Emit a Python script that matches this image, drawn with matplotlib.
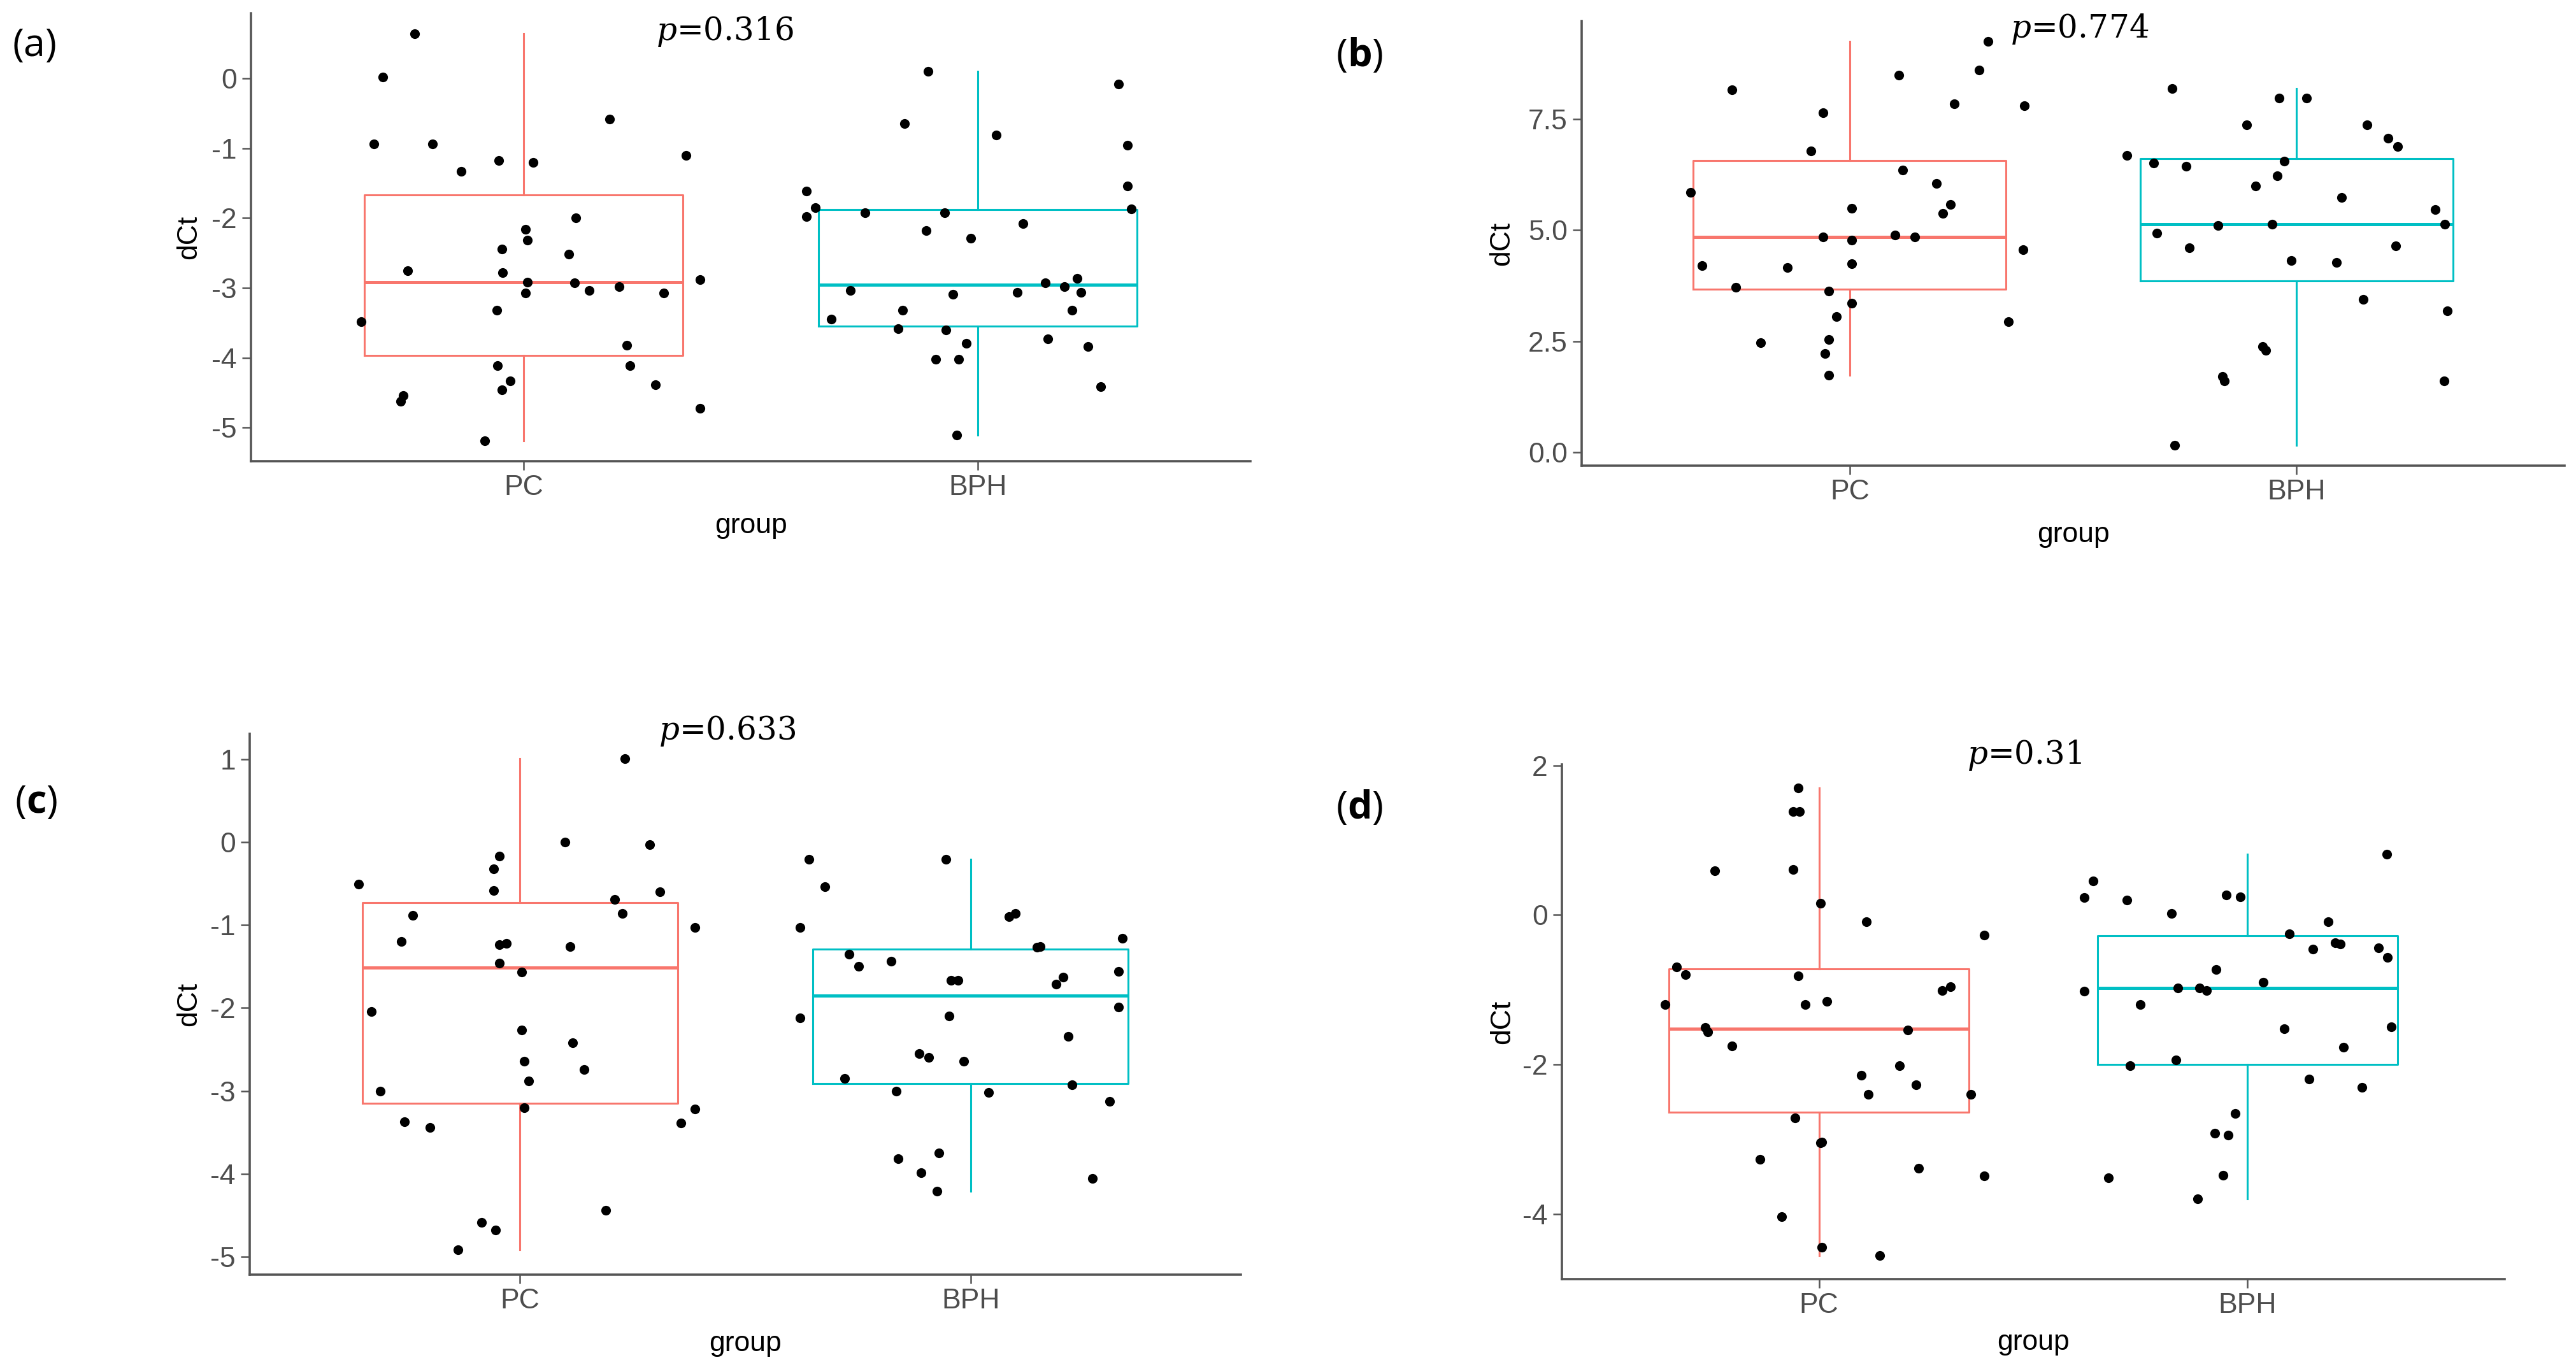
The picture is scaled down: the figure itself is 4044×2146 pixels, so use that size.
import matplotlib
matplotlib.use('Agg')
import matplotlib.pyplot as plt
from matplotlib.transforms import offset_copy
import numpy as np

plt.rcParams['font.family'] = ['Liberation Sans', 'DejaVu Sans']
plt.rcParams['axes.unicode_minus'] = False
plt.rcParams['mathtext.fontset'] = 'custom'
plt.rcParams['mathtext.rm'] = 'DejaVu Serif'
plt.rcParams['mathtext.it'] = 'DejaVu Serif:italic'
plt.rcParams['mathtext.bf'] = 'Open Sans:bold'

GROUPS = ['PC', 'BPH']
COLORS = ['#F8766D', '#00BFC4']

# (a)
A_PC = [0.64, 0.02, -0.94, -0.94, -1.33, -1.18, -1.20, -0.58, -1.10, -2.00,
        -2.16, -2.32, -2.44, -2.52, -2.75, -2.78, -2.92, -2.93, -3.07, -3.04,
        -2.98, -3.07, -2.88, -3.48, -3.32, -3.82, -4.11, -4.11, -4.33, -4.46,
        -4.54, -4.62, -4.39, -4.72, -5.19]
A_PC_JIT = [-0.24, -0.31, -0.33, -0.20, -0.137, -0.055, 0.021, 0.19, 0.357, 0.115,
            0.005, 0.009, -0.047, 0.10, -0.255, -0.046, 0.009, 0.112, 0.005, 0.144,
            0.21, 0.308, 0.388, -0.357, -0.059, 0.227, 0.234, -0.058, -0.03, -0.047,
            -0.265, -0.271, 0.29, 0.388, -0.085]
A_BPH = [0.10, -0.085, -0.65, -0.81, -0.96, -1.54, -1.61, -1.85, -1.98, -1.87,
         -1.92, -1.92, -2.08, -2.18, -2.29, -2.93, -2.86, -2.98, -3.06, -3.06,
         -3.04, -3.09, -3.32, -3.32, -3.45, -3.58, -3.60, -3.79, -3.73, -3.84,
         -4.02, -4.02, -4.41, -5.11]
A_BPH_JIT = [-0.109, 0.31, -0.161, 0.04, 0.329, 0.329, -0.378, -0.358, -0.378, 0.338,
             -0.248, -0.073, 0.10, -0.114, -0.015, 0.148, 0.218, 0.191, 0.227, 0.087,
             -0.28, -0.055, -0.166, 0.207, -0.322, -0.176, -0.07, -0.026, 0.154, 0.242,
             -0.093, -0.042, 0.271, -0.046]

# (b)
B_PC = [8.17, 7.65, 8.49, 8.61, 9.26, 7.85, 7.81, 6.79, 6.35, 6.06,
        5.86, 5.50, 5.58, 5.38, 4.85, 4.77, 4.89, 4.85, 4.56, 4.20,
        4.16, 4.24, 3.72, 3.63, 3.35, 3.06, 2.94, 2.46, 2.54, 2.22, 1.73]
B_PC_JIT = [-0.263, -0.059, 0.11, 0.29, 0.31, 0.234, 0.391, -0.087, 0.118, 0.194,
            -0.356, 0.005, 0.226, 0.209, -0.059, 0.005, 0.101, 0.146, 0.388, -0.331,
            -0.139, 0.005, -0.255, -0.047, 0.005, -0.03, 0.355, -0.199, -0.047, -0.056, -0.047]
B_BPH = [8.19, 7.98, 7.98, 7.37, 7.37, 7.08, 6.89, 6.68, 6.52, 6.44,
         6.56, 6.23, 5.99, 5.74, 5.46, 4.93, 5.10, 5.14, 5.14, 4.60,
         4.65, 4.32, 4.28, 3.44, 3.19, 2.38, 2.30, 1.70, 1.60, 1.60, 0.15]
B_BPH_JIT = [-0.279, -0.039, 0.022, -0.111, 0.158, 0.205, 0.226, -0.38, -0.32, -0.247,
             -0.028, -0.043, -0.092, 0.101, 0.31, -0.312, -0.175, -0.055, 0.332, -0.24,
             0.222, -0.011, 0.09, 0.149, 0.338, -0.076, -0.068, -0.165, -0.161, 0.331, -0.272]

# (c)
C_PC = [1.01, 0.00, -0.03, -0.17, -0.32, -0.58, -0.51, -0.60, -0.69, -0.86,
        -0.88, -1.03, -1.20, -1.24, -1.22, -1.26, -1.46, -1.57, -2.04, -2.27,
        -2.42, -2.64, -2.74, -2.88, -3.00, -3.20, -3.22, -3.39, -3.37, -3.44,
        -4.44, -4.59, -4.68, -4.92]
C_PC_JIT = [0.233, 0.10, 0.288, -0.046, -0.058, -0.058, -0.358, 0.31, 0.21, 0.227,
            -0.238, 0.388, -0.263, -0.046, -0.03, 0.111, -0.046, 0.004, -0.33, 0.004,
            0.117, 0.009, 0.142, 0.019, -0.31, 0.009, 0.388, 0.357, -0.256, -0.20,
            0.19, -0.086, -0.054, -0.137]
C_BPH = [-0.21, -0.21, -0.54, -1.03, -0.90, -0.86, -1.16, -1.27, -1.26, -1.35,
         -1.50, -1.44, -1.67, -1.67, -1.71, -1.63, -1.56, -2.12, -2.10, -1.99,
         -2.34, -2.55, -2.60, -2.64, -2.85, -3.00, -3.02, -2.93, -3.13, -3.75,
         -3.82, -3.99, -4.21, -4.06]
C_BPH_JIT = [-0.358, -0.054, -0.323, -0.378, 0.086, 0.099, 0.337, 0.147, 0.154, -0.27,
             -0.248, -0.176, -0.044, -0.028, 0.19, 0.206, 0.328, -0.378, -0.047, 0.328,
             0.217, -0.114, -0.093, -0.015, -0.28, -0.165, 0.04, 0.226, 0.309, -0.07,
             -0.161, -0.11, -0.074, 0.27]

# (d)
D_PC = [1.70, 1.38, 1.38, 0.61, 0.59, 0.155, -0.094, -0.27, -0.70, -0.80,
        -0.82, -1.01, -0.96, -1.20, -1.20, -1.16, -1.51, -1.57, -1.54, -1.75,
        -2.02, -2.15, -2.27, -2.40, -2.40, -2.72, -3.04, -3.05, -3.27, -3.39,
        -3.49, -4.04, -4.45, -4.56]
D_PC_JIT = [-0.048, -0.06, -0.046, -0.06, -0.243, 0.003, 0.11, 0.385, -0.332, -0.312,
            -0.048, 0.287, 0.307, -0.359, -0.032, 0.019, -0.265, -0.259, 0.207, -0.203,
            0.188, 0.099, 0.226, 0.115, 0.354, -0.056, 0.006, 0.004, -0.138, 0.232,
            0.385, -0.087, 0.007, 0.142]
D_BPH = [0.81, 0.45, 0.23, 0.20, 0.02, 0.27, 0.24, -0.094, -0.25, -0.46,
         -0.37, -0.39, -0.44, -0.57, -0.73, -0.90, -0.98, -0.98, -1.01, -1.02,
         -1.20, -1.52, -1.50, -1.77, -2.02, -1.94, -2.20, -2.31, -2.66, -2.92,
         -2.95, -3.48, -3.52, -3.80]
D_BPH_JIT = [0.325, -0.361, -0.381, -0.282, -0.178, -0.049, -0.017, 0.188, 0.098, 0.153,
             0.204, 0.217, 0.306, 0.326, -0.073, 0.037, -0.163, -0.112, -0.096, -0.381,
             -0.25, 0.086, 0.335, 0.224, -0.274, -0.167, 0.144, 0.267, -0.029, -0.077,
             -0.045, -0.057, -0.325, -0.116]

P_VALUES = ['0.316', '0.774', '0.633', '0.31']
PANEL_TAGS = ['a', 'b', 'c', 'd']
Y_TICKS = [[-5, -4, -3, -2, -1, 0], [0.0, 2.5, 5.0, 7.5],
           [-5, -4, -3, -2, -1, 0, 1], [-4, -2, 0, 2]]
Y_TICKLABELS = [['-5', '-4', '-3', '-2', '-1', '0'], ['0.0', '2.5', '5.0', '7.5'],
                ['-5', '-4', '-3', '-2', '-1', '0', '1'], ['-4', '-2', '0', '2']]

W, H = 4044, 2146
fig = plt.figure(figsize=(W / 100, H / 100), dpi=100)

# axes boxes in pixels: left, right, top, bottom
AX_PX = [(394, 1963, 21, 724), (2483, 4026, 33, 731),
         (392, 1948, 1152, 2001), (2452, 3932, 1200, 2008)]
P_TEXT_PX = [(1138, 50), (3265, 46), (1142, 1147), (3178, 1186)]
TAG_PX = [(54, 72), (2134, 88), (57, 1260), (2134, 1269)]
YLAB_OFF = [97, 125, 95, 93]
XLAB_OFF = [102, 109, 108, 100]

data = [(A_PC, A_PC_JIT, A_BPH, A_BPH_JIT), (B_PC, B_PC_JIT, B_BPH, B_BPH_JIT),
        (C_PC, C_PC_JIT, C_BPH, C_BPH_JIT), (D_PC, D_PC_JIT, D_BPH, D_BPH_JIT)]

AXIS_COL = '#555555'

for k in range(4):
    l, r, t, b = AX_PX[k]
    ax = fig.add_axes([l / W, 1 - b / H, (r - l) / W, (b - t) / H])
    pc, pc_jit, bph, bph_jit = data[k]
    for i, (vals, jit) in enumerate([(pc, pc_jit), (bph, bph_jit)]):
        col = COLORS[i]
        ax.boxplot(vals, positions=[i], widths=0.7, showfliers=False, showcaps=False,
                   boxprops=dict(color=col, linewidth=2.2),
                   whiskerprops=dict(color=col, linewidth=2.2),
                   medianprops=dict(color=col, linewidth=3.6))
        ax.scatter(i + np.array(jit), vals, s=120, c='black', linewidths=0, zorder=3)

    allv = np.array(pc + bph)
    lo, hi = allv.min(), allv.max()
    pad = 0.05 * (hi - lo)
    ax.set_ylim(lo - pad, hi + pad)
    ax.set_xlim(-0.6, 1.6)
    ax.set_xticks([0, 1])
    ax.set_xticklabels(GROUPS)
    ax.set_yticks(Y_TICKS[k])
    ax.set_yticklabels(Y_TICKLABELS[k])

    for s in ['top', 'right']:
        ax.spines[s].set_visible(False)
    for s in ['left', 'bottom']:
        ax.spines[s].set_color(AXIS_COL)
        ax.spines[s].set_linewidth(2.6)
    ax.tick_params(axis='both', length=10, width=1.8, color=AXIS_COL,
                   labelsize=32, labelcolor='#4D4D4D')
    ax.tick_params(axis='y', pad=6)
    ax.tick_params(axis='x', pad=5)

    ax.set_ylabel('dCt', fontsize=32, color='black')
    ax.yaxis.set_label_coords(0, 0.5, transform=offset_copy(ax.transAxes, fig=fig,
                                                            x=-YLAB_OFF[k], y=0, units='dots'))
    ax.yaxis.label.set_va('center')
    ax.set_xlabel('group', fontsize=32, color='black')
    ax.xaxis.set_label_coords(0.5, 0, transform=offset_copy(ax.transAxes, fig=fig,
                                                            x=0, y=-XLAB_OFF[k], units='dots'))
    ax.xaxis.label.set_va('center')

    px, py = P_TEXT_PX[k]
    fig.text(px / W, 1 - py / H, r'$p$=' + P_VALUES[k], family='DejaVu Serif',
             fontsize=36, ha='center', va='center')
    tx, ty = TAG_PX[k]
    tag = '(' + PANEL_TAGS[k] + ')' if k == 0 else r'($\mathbf{' + PANEL_TAGS[k] + '}$)'
    fig.text(tx / W, 1 - ty / H, tag, family='Open Sans', fontsize=44,
             ha='center', va='center')

fig.savefig('out.png', dpi=100)
